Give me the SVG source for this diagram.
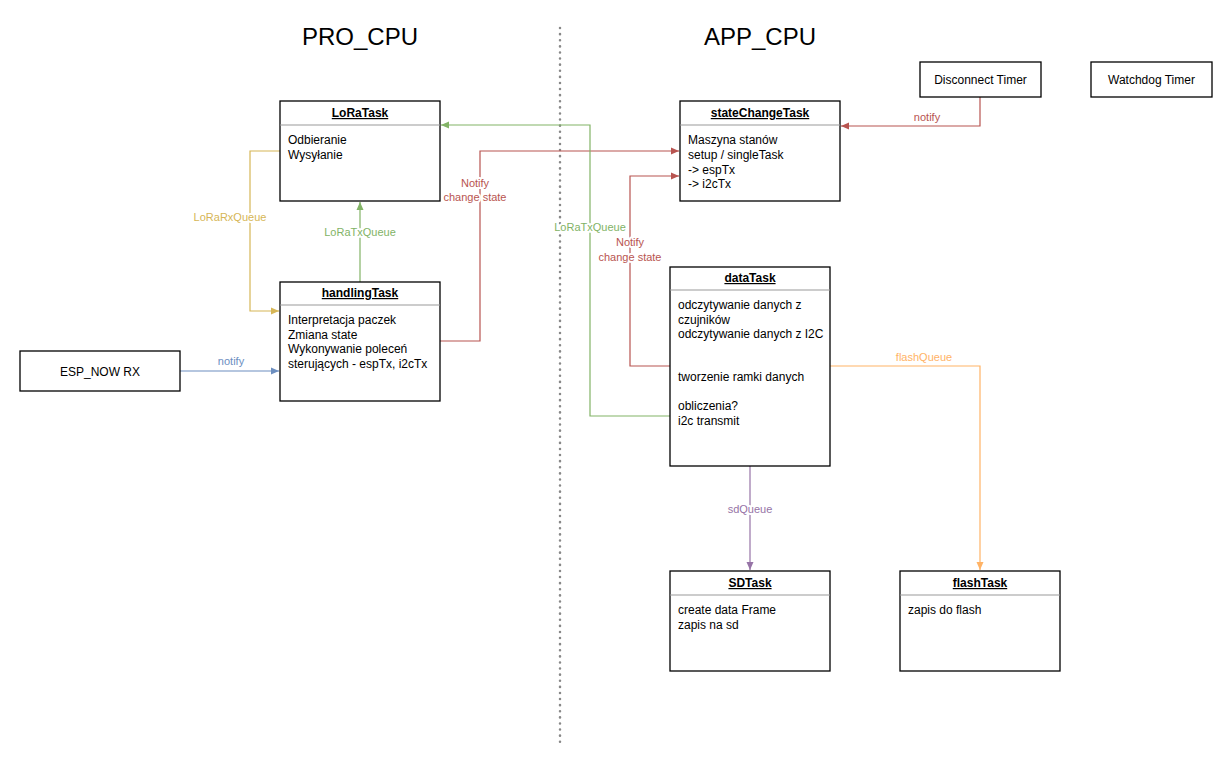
<svg xmlns="http://www.w3.org/2000/svg" width="1231" height="764" viewBox="0 0 1231 764">
<style>
text{font-family:"Liberation Sans",Arial,sans-serif;font-size:12px;fill:#000}
.box{fill:#fff;stroke:#000;stroke-width:1.3}
.sep{stroke:#999;stroke-width:1}
.title{font-weight:bold;text-decoration:underline;text-anchor:middle}
.hdr{font-size:24px;text-anchor:middle}
.c{fill:none;stroke-width:1.2}
.lbl{font-size:11px;text-anchor:middle;stroke:#fff;stroke-width:4px;paint-order:stroke;stroke-linejoin:round}
</style>
<defs>
<marker id="aG" markerWidth="10" markerHeight="10" refX="9" refY="5" orient="auto" markerUnits="userSpaceOnUse"><path d="M1,1.5 L9,5 L1,8.5 Z" fill="#82b366"/></marker>
<marker id="aR" markerWidth="10" markerHeight="10" refX="9" refY="5" orient="auto" markerUnits="userSpaceOnUse"><path d="M1,1.5 L9,5 L1,8.5 Z" fill="#b85450"/></marker>
<marker id="aY" markerWidth="10" markerHeight="10" refX="9" refY="5" orient="auto" markerUnits="userSpaceOnUse"><path d="M1,1.5 L9,5 L1,8.5 Z" fill="#d6b656"/></marker>
<marker id="aB" markerWidth="10" markerHeight="10" refX="9" refY="5" orient="auto" markerUnits="userSpaceOnUse"><path d="M1,1.5 L9,5 L1,8.5 Z" fill="#6c8ebf"/></marker>
<marker id="aP" markerWidth="10" markerHeight="10" refX="9" refY="5" orient="auto" markerUnits="userSpaceOnUse"><path d="M1,1.5 L9,5 L1,8.5 Z" fill="#9673a6"/></marker>
<marker id="aO" markerWidth="10" markerHeight="10" refX="9" refY="5" orient="auto" markerUnits="userSpaceOnUse"><path d="M1,1.5 L9,5 L1,8.5 Z" fill="#ffb366"/></marker>
</defs>
<rect width="1231" height="764" fill="#fff"/>
<line x1="560" y1="28" x2="560" y2="742" stroke="#888" stroke-width="2.5" stroke-dasharray="0.1 6" stroke-linecap="round"/>
<text class="hdr" x="360" y="45">PRO_CPU</text>
<text class="hdr" x="760" y="45">APP_CPU</text>

<g id="connectors">
<path class="c" stroke="#d6b656" d="M280,151 H250 V311 H279" marker-end="url(#aY)"/>
<path class="c" stroke="#82b366" d="M360,282 V202" marker-end="url(#aG)"/>
<path class="c" stroke="#b85450" d="M440,341 H480 V151 H679" marker-end="url(#aR)"/>
<path class="c" stroke="#82b366" d="M670,416 H590 V125 H441" marker-end="url(#aG)"/>
<path class="c" stroke="#b85450" d="M670,366 H630 V176 H679" marker-end="url(#aR)"/>
<path class="c" stroke="#b85450" d="M980,97 V126 H841" marker-end="url(#aR)"/>
<path class="c" stroke="#6c8ebf" d="M180,371 H279" marker-end="url(#aB)"/>
<path class="c" stroke="#9673a6" d="M750,466 V570" marker-end="url(#aP)"/>
<path class="c" stroke="#ffb366" d="M830,366 H980 V570" marker-end="url(#aO)"/>
<text class="lbl" x="230" y="221" style="fill:#d6b656">LoRaRxQueue</text>
<text class="lbl" x="360" y="236" style="fill:#82b366">LoRaTxQueue</text>
<text class="lbl" x="475" y="187" style="fill:#b85450">Notify</text>
<text class="lbl" x="475" y="201" style="fill:#b85450">change state</text>
<text class="lbl" x="590" y="231" style="fill:#82b366">LoRaTxQueue</text>
<text class="lbl" x="630" y="246" style="fill:#b85450">Notify</text>
<text class="lbl" x="630" y="261" style="fill:#b85450">change state</text>
<text class="lbl" x="927" y="121" style="fill:#b85450">notify</text>
<text class="lbl" x="231" y="365" style="fill:#6c8ebf">notify</text>
<text class="lbl" x="750" y="513" style="fill:#9673a6">sdQueue</text>
<text class="lbl" x="924" y="361" style="fill:#ffb366">flashQueue</text>
</g>

<g id="LoRaTask">
<rect class="box" x="280" y="101" width="160" height="100"/>
<line class="sep" x1="280" y1="125" x2="440" y2="125"/>
<text class="title" x="360" y="117">LoRaTask</text>
<text x="288" y="144">Odbieranie</text>
<text x="288" y="159">Wysyłanie</text>
</g>

<g id="handlingTask">
<rect class="box" x="280" y="282" width="160" height="119"/>
<line class="sep" x1="280" y1="305" x2="440" y2="305"/>
<text class="title" x="360" y="297">handlingTask</text>
<text x="288" y="324">Interpretacja paczek</text>
<text x="288" y="339">Zmiana state</text>
<text x="288" y="353">Wykonywanie poleceń</text>
<text x="288" y="368">sterujących - espTx, i2cTx</text>
</g>

<g id="ESP_NOW_RX">
<rect class="box" x="20" y="351" width="160" height="40"/>
<text x="100" y="376" text-anchor="middle">ESP_NOW RX</text>
</g>

<g id="stateChangeTask">
<rect class="box" x="680" y="101" width="160" height="100"/>
<line class="sep" x1="680" y1="125" x2="840" y2="125"/>
<text class="title" x="760" y="117">stateChangeTask</text>
<text x="688" y="144">Maszyna stanów</text>
<text x="688" y="159">setup / singleTask</text>
<text x="688" y="174">-&gt; espTx</text>
<text x="688" y="188">-&gt; i2cTx</text>
</g>

<g id="DisconnectTimer">
<rect class="box" x="920" y="62" width="121" height="35"/>
<text x="980.5" y="84" text-anchor="middle">Disconnect Timer</text>
</g>

<g id="WatchdogTimer">
<rect class="box" x="1091" y="62" width="121" height="35"/>
<text x="1151.5" y="84" text-anchor="middle">Watchdog Timer</text>
</g>

<g id="dataTask">
<rect class="box" x="670" y="267" width="160" height="199"/>
<line class="sep" x1="670" y1="290" x2="830" y2="290"/>
<text class="title" x="750" y="282">dataTask</text>
<text x="678" y="309">odczytywanie danych z</text>
<text x="678" y="324">czujników</text>
<text x="678" y="338">odczytywanie danych z I2C</text>
<text x="678" y="381">tworzenie ramki danych</text>
<text x="678" y="410">obliczenia?</text>
<text x="678" y="425">i2c transmit</text>
</g>

<g id="SDTask">
<rect class="box" x="670" y="571" width="160" height="100"/>
<line class="sep" x1="670" y1="595" x2="830" y2="595"/>
<text class="title" x="750" y="587">SDTask</text>
<text x="678" y="614">create data Frame</text>
<text x="678" y="629">zapis na sd</text>
</g>

<g id="flashTask">
<rect class="box" x="900" y="571" width="160" height="100"/>
<line class="sep" x1="900" y1="595" x2="1060" y2="595"/>
<text class="title" x="980" y="587">flashTask</text>
<text x="908" y="614">zapis do flash</text>
</g>
</svg>
